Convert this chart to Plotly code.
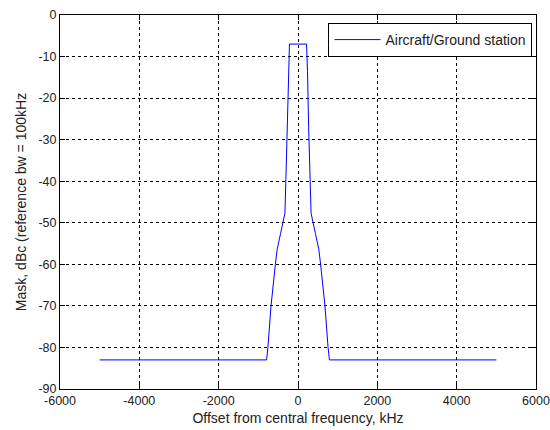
import plotly.graph_objects as go

# Mask data (kHz offset, dBc)
offset_khz = [-5000, -792, -758, -680, -570, -525, -440, -330, -308, -268, -240, -215,
              215, 240, 268, 308, 330, 440, 525, 570, 680, 758, 792, 5000]
mask_dbc = [-83, -83, -80, -70, -60, -56.4, -52.6, -47.7, -40.6, -27, -13.6, -7,
            -7, -13.6, -27, -40.6, -47.7, -52.6, -56.4, -60, -70, -80, -83, -83]
series_name = "Aircraft/Ground station"

x_ticks = [-6000, -4000, -2000, 0, 2000, 4000, 6000]
y_ticks = [0, -10, -20, -30, -40, -50, -60, -70, -80, -90]

tick_font = dict(family="Liberation Sans, Arial, sans-serif", size=12.5, color="#222")
title_font = dict(family="Liberation Sans, Arial, sans-serif", size=14, color="#222")

fig = go.Figure()
fig.add_trace(go.Scatter(x=offset_khz, y=mask_dbc, mode="lines", name=series_name,
                         line=dict(color="#0000ff", width=1)))

axis_common = dict(showline=True, linecolor="black", linewidth=1, mirror="ticks",
                   ticks="inside", ticklen=5, tickcolor="black",
                   showgrid=True, gridcolor="black", griddash="dot", gridwidth=1,
                   zeroline=False, tickfont=tick_font, automargin=False)

fig.update_xaxes(range=[-6000, 6000], tickvals=x_ticks, ticktext=[str(v) for v in x_ticks],
                 title=dict(text="Offset from central frequency, kHz", font=title_font, standoff=6),
                 **axis_common)
fig.update_yaxes(range=[-90, 0], tickvals=y_ticks, ticktext=[str(v) for v in y_ticks],
                 title=dict(text="Mask, dBc (reference bw = 100kHz", font=title_font, standoff=8),
                 **axis_common)

fig.update_layout(width=550, height=430, margin=dict(l=60, r=14, t=15, b=41),
                  paper_bgcolor="white", plot_bgcolor="white", font=tick_font,
                  showlegend=True,
                  legend=dict(x=0.9926, y=0.9786, xanchor="right", yanchor="top",
                              bordercolor="black", borderwidth=1, bgcolor="white",
                              font=title_font, itemwidth=46, tracegroupgap=0))

fig.write_html("out.html")
